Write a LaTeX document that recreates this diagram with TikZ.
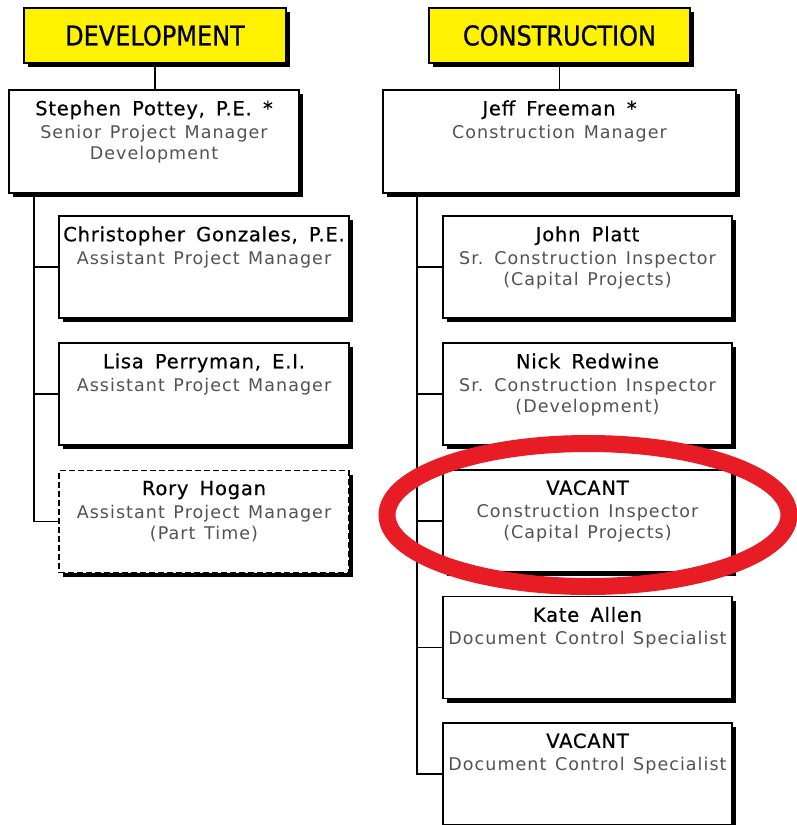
\documentclass[tikz,border=0pt]{standalone}
\usepackage{fontspec}
\setmainfont{DejaVu Sans}
\newfontfamily\namefont[LetterSpace=4,WordSpace=1.6,FakeBold=0.6]{DejaVu Sans}
\newfontfamily\subfont[LetterSpace=6,WordSpace=1.3]{DejaVu Sans}
\newfontfamily\hdrfont[FakeBold=0.8]{DejaVu Sans}
\definecolor{ringred}{RGB}{232,28,36}
\newcommand\pname[1]{{\color{black}\namefont\fontsize{19.5}{22}\selectfont #1}\\[2pt]}
\newcommand\hdrtext[1]{\scalebox{1}[1.14]{#1}}
\tikzset{
  box/.style={draw=black, line width=1.5pt, fill=white, rectangle, inner sep=0pt,
    preaction={fill=black, transform canvas={xshift=4pt,yshift=-4pt}}},
  hdr/.style={box, fill=yellow, font=\hdrfont\fontsize{24}{24}\selectfont},
  leftchild/.style={box, minimum width=290pt, minimum height=102pt},
  rightchild/.style={box, minimum width=289pt, minimum height=102pt},
  txt/.style={anchor=north, inner sep=0pt, align=center,
    font=\subfont\fontsize{17.5}{21}\selectfont, text=black!68},
  link/.style={line width=1.5pt},
  ring/.style={draw=ringred, line width=17pt}
}
\begin{document}
\begin{tikzpicture}[x=1pt,y=-1pt]
\useasboundingbox (0,0) rectangle (796,825);
% headers and managers
\node[hdr, minimum width=262pt, minimum height=55pt] (devhdr) at (155,35.5) {\hdrtext{DEVELOPMENT}};
\node[hdr, minimum width=261pt, minimum height=55pt] (conhdr) at (559.5,35.5) {\hdrtext{CONSTRUCTION}};
\node[box, minimum width=290pt, minimum height=103pt] (steph) at (154,141.5) {};
\node[box, minimum width=353pt, minimum height=103pt] (jeff) at (559.5,141.5) {};
% left children
\node[leftchild] (chris) at (204,267) {};
\node[leftchild] (lisa) at (204,394) {};
\node[leftchild, dash pattern=on 6pt off 3pt] (rory) at (204,521.5) {};
% right children
\node[rightchild] (john) at (587.5,267) {};
\node[rightchild] (nick) at (587.5,394) {};
\node[rightchild] (vaca) at (587.5,521) {};
\node[rightchild] (kate) at (587.5,647.5) {};
\node[rightchild] (vacb) at (587.5,774) {};
% connectors
\draw[link] (devhdr.south) -- (devhdr.south |- steph.north);
\draw[link] (conhdr.south) -- (jeff.north);
\coordinate (ltop) at (34,193);
\coordinate (rtop) at (417,193);
\draw[link] (ltop) |- (rory.west);
\draw[link] (ltop |- chris.west) -- (chris.west);
\draw[link] (ltop |- lisa.west) -- (lisa.west);
\draw[link] (rtop) |- (vacb.west);
\draw[link] (rtop |- john.west) -- (john.west);
\draw[link] (rtop |- nick.west) -- (nick.west);
\draw[link] (rtop |- vaca.west) -- (vaca.west);
\draw[link] (rtop |- kate.west) -- (kate.west);
% texts
\node[txt] (t1) at ([yshift=-11pt]steph.north) {\pname{Stephen Pottey, P.E. *}Senior Project Manager\\Development};
\node[txt] (t2) at ([yshift=-11pt]jeff.north) {\pname{Jeff Freeman *}Construction Manager};
\node[txt] (t3) at ([yshift=-11pt]chris.north) {\pname{Christopher Gonzales, P.E.}Assistant Project Manager};
\node[txt] (t4) at ([yshift=-11pt]lisa.north) {\pname{Lisa Perryman, E.I.}Assistant Project Manager};
\node[txt] (t5) at ([yshift=-11pt]rory.north) {\pname{Rory Hogan}Assistant Project Manager\\(Part Time)};
\node[txt] (t6) at ([yshift=-11pt]john.north) {\pname{John Platt}Sr. Construction Inspector\\(Capital Projects)};
\node[txt] (t7) at ([yshift=-11pt]nick.north) {\pname{Nick Redwine}Sr. Construction Inspector\\(Development)};
\node[txt] (t8) at ([yshift=-11pt]vaca.north) {\pname{VACANT}Construction Inspector\\(Capital Projects)};
\node[txt] (t9) at ([yshift=-11pt]kate.north) {\pname{Kate Allen}Document Control Specialist};
\node[txt] (t10) at ([yshift=-11pt]vacb.north) {\pname{VACANT}Document Control Specialist};
% red ring
\draw[ring] (588,515) ellipse [x radius=201, y radius=71.5];
\end{tikzpicture}
\end{document}
